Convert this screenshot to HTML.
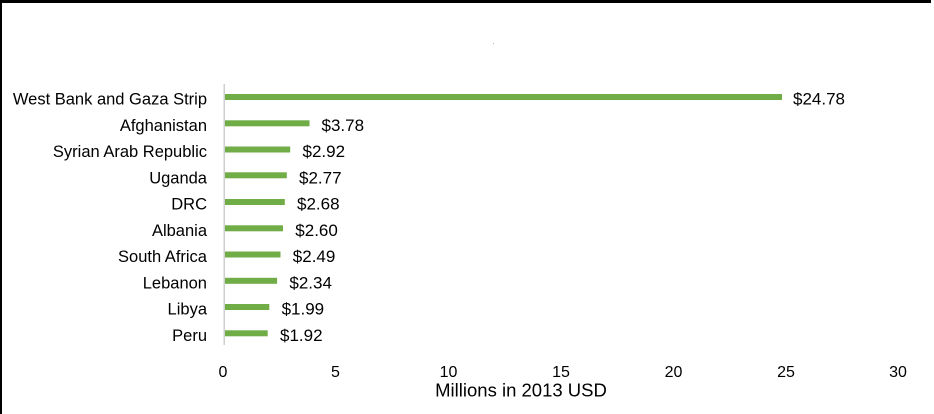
<!DOCTYPE html>
<html>
<head>
<meta charset="utf-8">
<style>
  html, body { margin: 0; padding: 0; background: #fff; }
  body { width: 934px; height: 414px; overflow: hidden; }
  svg { display: block; }
  text { font-family: "Liberation Sans", Arial, sans-serif; fill: #000; }
</style>
</head>
<body>
<svg width="934" height="414" viewBox="0 0 934 414" xmlns="http://www.w3.org/2000/svg">
  <rect x="0" y="0" width="934" height="414" fill="#fff"/>
  <!-- border -->
  <rect x="0" y="0" width="931" height="3" fill="#000"/>
  <rect x="0" y="0" width="2" height="414" fill="#000"/>

  <!-- tiny mark -->
  <rect x="493" y="43" width="1" height="1" fill="#bbb"/>

  <!-- axis line -->
  <rect x="223.5" y="84" width="1.5" height="261" fill="#cfcfcf"/>

  <!-- bars -->
  <g fill="#70AD47">
    <rect x="225" y="94" width="557" height="6"/>
    <rect x="225" y="120.3" width="84.5" height="6"/>
    <rect x="225" y="146.5" width="65.2" height="6"/>
    <rect x="225" y="172.3" width="61.8" height="6"/>
    <rect x="225" y="199" width="59.8" height="6"/>
    <rect x="225" y="225.3" width="58" height="6"/>
    <rect x="225" y="251.5" width="55.5" height="6"/>
    <rect x="225" y="277.8" width="52.1" height="6"/>
    <rect x="225" y="304" width="44.3" height="6"/>
    <rect x="225" y="330.3" width="42.7" height="6"/>
  </g>

  <!-- category labels -->
  <g font-size="16.5" text-anchor="end">
    <text x="207" y="104.5">West Bank and Gaza Strip</text>
    <text x="207" y="130.8">Afghanistan</text>
    <text x="207" y="157">Syrian Arab Republic</text>
    <text x="207" y="183.3">Uganda</text>
    <text x="207" y="209.5">DRC</text>
    <text x="207" y="235.8">Albania</text>
    <text x="207" y="262">South Africa</text>
    <text x="207" y="288.3">Lebanon</text>
    <text x="207" y="314.5">Libya</text>
    <text x="207" y="340.8">Peru</text>
  </g>

  <!-- value labels -->
  <g font-size="17">
    <text x="793" y="104.5">$24.78</text>
    <text x="321.5" y="130.8">$3.78</text>
    <text x="302.5" y="157">$2.92</text>
    <text x="299" y="183.3">$2.77</text>
    <text x="297" y="209.5">$2.68</text>
    <text x="295.3" y="235.8">$2.60</text>
    <text x="292.8" y="262">$2.49</text>
    <text x="289.4" y="288.3">$2.34</text>
    <text x="281.6" y="314.5">$1.99</text>
    <text x="280" y="340.8">$1.92</text>
  </g>

  <!-- x tick labels -->
  <g font-size="16" text-anchor="middle">
    <text x="223" y="377">0</text>
    <text x="335.5" y="377">5</text>
    <text x="448.5" y="377">10</text>
    <text x="561" y="377">15</text>
    <text x="673.5" y="377">20</text>
    <text x="786" y="377">25</text>
    <text x="898" y="377">30</text>
  </g>

  <!-- axis title -->
  <text x="521" y="396.5" font-size="18.5" text-anchor="middle">Millions in 2013 USD</text>
</svg>
</body>
</html>
